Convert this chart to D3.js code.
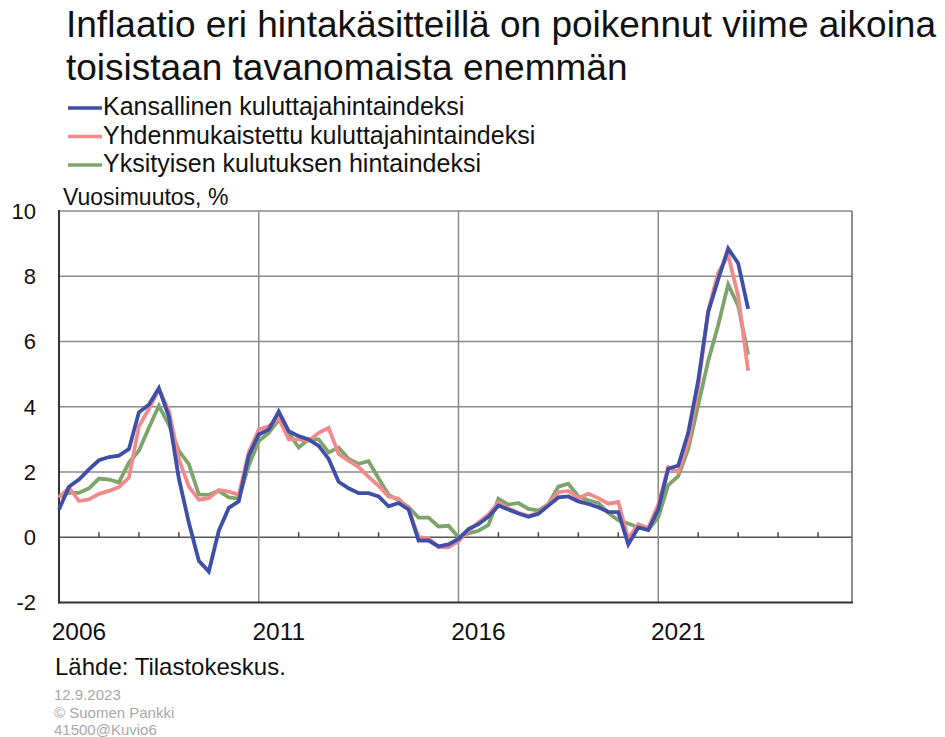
<!DOCTYPE html>
<html>
<head>
<meta charset="utf-8">
<script src="https://cdn.jsdelivr.net/npm/d3@7"></script>
<style>
  html, body { margin: 0; padding: 0; background: #fff; }
  svg { display: block; font-family: "Liberation Sans", Arial, Helvetica, sans-serif; }
</style>
</head>
<body>
<svg id="chart" width="945" height="737"></svg>
<script>
// ---- Data (quarterly, annual change %, 2006Q1 .. 2023Q2) ----
const startYear = 2006;
const kansallinenKHI = [
  0.85, 1.55, 1.77, 2.08, 2.36, 2.46, 2.5, 2.7,
  3.83, 4.06, 4.57, 3.7, 1.8, 0.45, -0.72, -1.05,
  0.2, 0.9, 1.1, 2.5, 3.15, 3.3, 3.85, 3.25,
  3.1, 3.0, 2.8, 2.4, 1.7, 1.5, 1.35, 1.35,
  1.25, 0.95, 1.05, 0.85, -0.1, -0.1, -0.28, -0.22,
  -0.05, 0.25, 0.4, 0.63, 0.97, 0.85, 0.73, 0.63,
  0.72, 0.97, 1.22, 1.25, 1.1, 1.02, 0.92, 0.78,
  0.77, -0.22, 0.3, 0.22, 0.85, 2.1, 2.2, 3.2,
  4.8, 6.9, 7.9, 8.85, 8.4, 7.0
];
const yhdenmukaistettuKHI = [
  1.21, 1.52, 1.11, 1.16, 1.33, 1.42, 1.54, 1.83,
  3.4, 3.93, 4.54, 3.88, 2.4, 1.55, 1.15, 1.2,
  1.45, 1.4, 1.3, 2.6, 3.3, 3.4, 3.65, 3.0,
  3.0, 2.95, 3.2, 3.35, 2.55, 2.35, 2.15, 1.85,
  1.58, 1.25, 1.18, 0.88, 0.0, -0.03, -0.3, -0.31,
  -0.12, 0.2, 0.45, 0.7, 1.06, 0.88, 0.75, 0.65,
  0.75, 1.02, 1.38, 1.42, 1.2, 1.33, 1.2, 1.03,
  1.08, -0.05, 0.4, 0.28, 1.0, 2.15, 2.0, 2.9,
  4.6, 6.95, 8.1, 8.65, 7.4, 5.1
];
const yksityinenKulutus = [
  1.26, 1.36, 1.36, 1.5, 1.8, 1.77, 1.68, 2.29,
  2.65, 3.36, 4.03, 3.45, 2.65, 2.24, 1.31, 1.3,
  1.42, 1.22, 1.18, 2.2, 2.95, 3.2, 3.6, 3.2,
  2.75, 3.0, 3.0, 2.6, 2.75, 2.4, 2.25, 2.33,
  1.8, 1.3, 1.14, 0.92, 0.6, 0.6, 0.33, 0.35,
  0.0, 0.12, 0.2, 0.38, 1.18, 1.0, 1.05, 0.87,
  0.82, 1.02, 1.55, 1.64, 1.25, 1.13, 1.05, 0.75,
  0.52, 0.42, 0.3, 0.23, 0.6, 1.6, 1.87, 2.7,
  4.05, 5.4, 6.5, 7.75, 7.1, 5.6
];
const seriesNames = [
  "Kansallinen kuluttajahintaindeksi",
  "Yhdenmukaistettu kuluttajahintaindeksi",
  "Yksityisen kulutuksen hintaindeksi"
];
const seriesColors = ["#3f4ea6", "#f08a8c", "#7ea46c"];
const xLabelYears = [2006, 2011, 2016, 2021];
const gridYears = [2011, 2016, 2021];
const minorTickYears = [2007,2008,2009,2010,2012,2013,2014,2015,2017,2018,2019,2020,2022,2023,2024,2025];
const yTicks = [-2, 0, 2, 4, 6, 8, 10];
const titleLines = ["Inflaatio eri hintakäsitteillä on poikennut viime aikoina", "toisistaan tavanomaista enemmän"];
const yUnit = "Vuosimuutos, %";
const sourceText = "Lähde: Tilastokeskus.";
const footerLines = ["12.9.2023", "© Suomen Pankki", "41500@Kuvio6"];

// ---- Layout ----
const svg = d3.select("#chart");
const plot = { left: 59, right: 852, top: 211, bottom: 602.5 };
const x = d3.scaleLinear().domain([2006, 2025.85]).range([plot.left, plot.right]);
const y = d3.scaleLinear().domain([-2, 10]).range([plot.bottom, plot.top]);

// Title
svg.append("g").selectAll("text").data(titleLines).join("text")
  .attr("x", 66).attr("y", (d, i) => 37 + i * 43)
  .attr("font-size", 37).attr("fill", "#111").text(d => d);

// Legend
const leg = svg.append("g").selectAll("g").data(seriesNames).join("g")
  .attr("transform", (d, i) => `translate(0, ${115 + i * 28.5})`);
leg.append("line").attr("x1", 68).attr("x2", 102).attr("y1", -7).attr("y2", -7)
  .attr("stroke", (d, i) => seriesColors[i]).attr("stroke-width", 3.5);
leg.append("text").attr("x", 103).attr("y", 0).attr("font-size", 25).attr("fill", "#111").text(d => d);

// Unit label
svg.append("text").attr("x", 63).attr("y", 205).attr("font-size", 23).attr("fill", "#111").text(yUnit);

// Gridlines
const grid = svg.append("g");
grid.selectAll("line.h").data(yTicks.filter(v => v > -2)).join("line")
  .attr("x1", plot.left).attr("x2", plot.right)
  .attr("y1", d => y(d)).attr("y2", d => y(d))
  .attr("stroke", d => d === 0 ? "#555" : "#8a8a8a").attr("stroke-width", 1.5);
grid.selectAll("line.v").data(gridYears).join("line")
  .attr("x1", d => x(d)).attr("x2", d => x(d))
  .attr("y1", plot.top).attr("y2", plot.bottom)
  .attr("stroke", "#8a8a8a").attr("stroke-width", 1.5);
// right border
grid.append("line").attr("x1", plot.right).attr("x2", plot.right)
  .attr("y1", plot.top).attr("y2", plot.bottom).attr("stroke", "#666").attr("stroke-width", 1.5);
// minor year ticks on zero line
grid.selectAll("line.t").data(minorTickYears).join("line")
  .attr("x1", d => x(d)).attr("x2", d => x(d))
  .attr("y1", y(0)).attr("y2", y(0) - 5)
  .attr("stroke", "#444").attr("stroke-width", 1.5);

// Axes (left & bottom) lines
svg.append("line").attr("x1", plot.left).attr("x2", plot.left)
  .attr("y1", plot.top - 1).attr("y2", plot.bottom + 1).attr("stroke", "#333").attr("stroke-width", 2);
svg.append("line").attr("x1", plot.left - 1).attr("x2", plot.right + 1)
  .attr("y1", plot.bottom).attr("y2", plot.bottom).attr("stroke", "#333").attr("stroke-width", 2);

// Y tick labels
svg.append("g").selectAll("text").data(yTicks).join("text")
  .attr("x", 36).attr("y", d => y(d)).attr("dy", "0.36em")
  .attr("text-anchor", "end").attr("font-size", 22).attr("fill", "#111").text(d => d);

// X labels (centered in the year)
svg.append("g").selectAll("text").data(xLabelYears).join("text")
  .attr("x", d => x(d + 0.5)).attr("y", 640)
  .attr("text-anchor", "middle").attr("font-size", 24.5).attr("fill", "#111").text(d => d);

// Lines
const allSeries = [kansallinenKHI, yhdenmukaistettuKHI, yksityinenKulutus];
const line = d3.line().x((d, i) => x(startYear + i / 4)).y(d => y(d));
const order = [2, 1, 0];
svg.append("g").selectAll("path").data(order).join("path")
  .attr("d", k => line(allSeries[k]))
  .attr("fill", "none").attr("stroke", k => seriesColors[k])
  .attr("stroke-width", 3.8).attr("stroke-linejoin", "miter").attr("stroke-linecap", "butt");

// Source
svg.append("text").attr("x", 55).attr("y", 675).attr("font-size", 24).attr("fill", "#111").text(sourceText);

// Footer
svg.append("g").selectAll("text").data(footerLines).join("text")
  .attr("x", 54).attr("y", (d, i) => 700 + i * 17.5)
  .attr("font-size", 15).attr("fill", "#a8a8a8").text(d => d);
</script>
</body>
</html>
